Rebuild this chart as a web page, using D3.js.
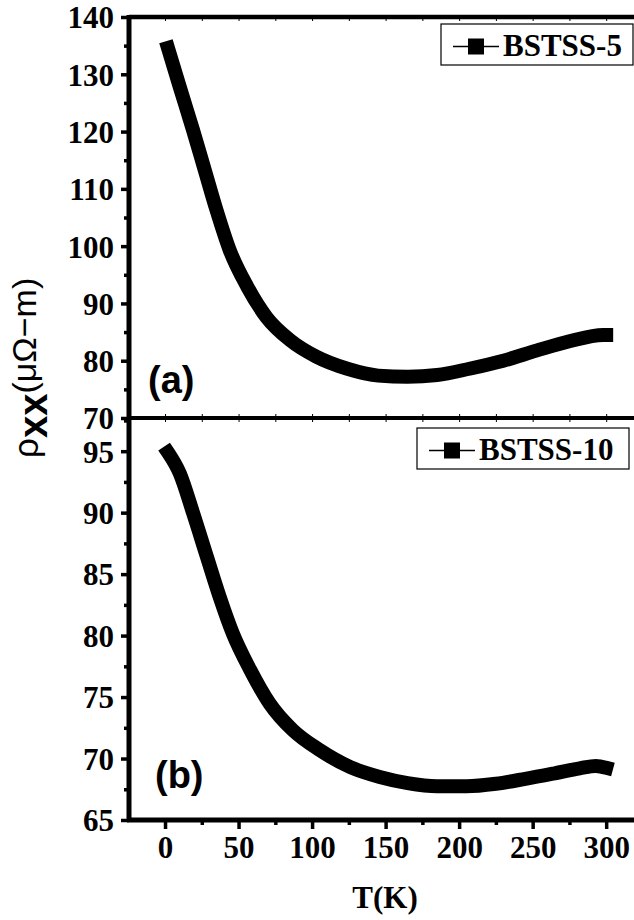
<!DOCTYPE html>
<html>
<head>
<meta charset="utf-8">
<script src="https://cdn.jsdelivr.net/npm/d3@7"></script>
<style>
  body { margin: 0; background: #fff; }
  svg { display: block; }
</style>
</head>
<body>
<svg id="chart"></svg>
<script>
// Temperature (K) and resistivity (µΩ-m)
const tempA = [2, 10, 19, 27, 35, 44, 56, 69, 85, 103, 124, 145, 165, 185, 207, 230, 253, 275, 298, 300];
const rhoA  = [134.6, 127.8, 120.3, 113.3, 106.3, 99.3, 92.9, 87.6, 83.6, 80.7, 78.6, 77.4, 77.2, 77.5, 78.6, 80.0, 81.8, 83.4, 84.5, 84.5];

const tempB = [2, 10, 19, 28.5, 37, 46, 58, 71, 87, 105, 126, 146, 165, 185, 205, 225, 245, 265, 282, 293, 300];
const rhoB  = [94.9, 93.2, 90.0, 86.4, 83.2, 80.2, 77.2, 74.5, 72.3, 70.7, 69.3, 68.5, 68.0, 67.75, 67.75, 67.95, 68.35, 68.8, 69.2, 69.4, 69.25];

const xTicks  = [0, 50, 100, 150, 200, 250, 300];
const yTicksA = [70, 80, 90, 100, 110, 120, 130, 140];
const yTicksB = [65, 70, 75, 80, 85, 90, 95];

const width = 634, height = 920;
const left = 129, right = 640;
const topA = 17, mid = 418, bottomB = 820;
const serif = "'Liberation Serif', 'Times New Roman', serif";
const sans = "'Liberation Sans', Arial, sans-serif";

const svg = d3.select("#chart")
    .attr("width", width)
    .attr("height", height);

const x = d3.scaleLinear().domain([-24.5, 323]).range([left, right]);
const yA = d3.scaleLinear().domain([70, 140]).range([mid, topA]);
const yB = d3.scaleLinear().domain([65, 97.7]).range([bottomB, mid]);

function styleLabels(g) {
    g.selectAll(".tick text")
        .attr("fill", "#000")
        .style("font-family", serif)
        .style("font-weight", "bold")
        .style("font-size", "31px");
}

// Left axes with outward major and minor ticks
function leftAxis(y, ticks, minorStep) {
    const [lo, hi] = y.domain();
    const minors = d3.range(lo, hi + 0.001, minorStep).filter(v => !ticks.includes(v));
    const gm = svg.append("g").attr("transform", `translate(${left},0)`)
        .call(d3.axisLeft(y).tickValues(minors).tickSize(5).tickFormat(""));
    const g = svg.append("g").attr("transform", `translate(${left},0)`)
        .call(d3.axisLeft(y).tickValues(ticks).tickSize(8).tickPadding(7).tickFormat(d3.format("d")));
    [gm, g].forEach(s => {
        s.select(".domain").remove();
        s.selectAll(".tick line").attr("stroke", "#000").attr("stroke-width", 3.5);
    });
    styleLabels(g);
    g.selectAll(".tick text").attr("dy", "0.35em");
}
leftAxis(yA, yTicksA, 5);
leftAxis(yB, yTicksB, 2.5);

// Bottom axis
const xMinor = d3.range(-25, 325, 25).filter(v => v > -24.5 && !xTicks.includes(v));
const gx = svg.append("g").attr("transform", `translate(0,${bottomB})`);
gx.append("g").call(d3.axisBottom(x).tickValues(xMinor).tickSize(5).tickFormat(""));
gx.append("g").call(d3.axisBottom(x).tickValues(xTicks).tickSize(9).tickPadding(7).tickFormat(d3.format("d")));
gx.selectAll(".domain").remove();
gx.selectAll(".tick line").attr("stroke", "#000").attr("stroke-width", 3.5);
styleLabels(gx);

// Small inward ticks on the horizontal frame lines
const allX = d3.range(0, 325, 25);
function frameTicks(yPos, axisFn, size) {
    svg.append("g").attr("transform", `translate(0,${yPos})`)
        .call(axisFn(x).tickValues(allX).tickSize(size).tickFormat(""))
        .call(g => g.select(".domain").remove())
        .selectAll("line").attr("stroke", "#000").attr("stroke-width", 1);
}
frameTicks(topA, d3.axisBottom, 4);
frameTicks(mid, d3.axisBottom, 4);
frameTicks(mid, d3.axisTop, 4);

// Frame lines
svg.append("line").attr("x1", left).attr("x2", right).attr("y1", topA).attr("y2", topA)
    .attr("stroke", "#000").attr("stroke-width", 4.5);
svg.append("line").attr("x1", left).attr("x2", right).attr("y1", mid).attr("y2", mid)
    .attr("stroke", "#000").attr("stroke-width", 4);
svg.append("line").attr("x1", left - 2).attr("x2", right).attr("y1", bottomB).attr("y2", bottomB)
    .attr("stroke", "#000").attr("stroke-width", 5);
svg.append("line").attr("x1", left).attr("x2", left).attr("y1", topA - 2).attr("y2", bottomB + 2)
    .attr("stroke", "#000").attr("stroke-width", 5);

// Curves
function curve(temps, rhos, y) {
    const pts = temps.map((t, i) => [t, rhos[i]]);
    svg.append("path")
        .datum(pts)
        .attr("fill", "none")
        .attr("stroke", "#000")
        .attr("stroke-width", 14)
        .attr("stroke-linecap", "square")
        .attr("stroke-linejoin", "round")
        .attr("d", d3.line().x(d => x(d[0])).y(d => y(d[1])).curve(d3.curveMonotoneX));
}
curve(tempA, rhoA, yA);
curve(tempB, rhoB, yB);

// Legends
function legend(bx, by, bw, bh, label) {
    const g = svg.append("g").attr("transform", `translate(${bx},${by})`);
    g.append("rect").attr("width", bw).attr("height", bh)
        .attr("fill", "#fff").attr("stroke", "#000").attr("stroke-width", 1.2);
    g.append("line").attr("x1", 12).attr("x2", 58).attr("y1", bh / 2 + 2).attr("y2", bh / 2 + 2)
        .attr("stroke", "#000").attr("stroke-width", 1.5);
    g.append("rect").attr("x", 27).attr("y", bh / 2 - 6).attr("width", 16).attr("height", 16).attr("fill", "#000");
    g.append("text").attr("x", 62).attr("y", bh / 2 + 11)
        .style("font-family", serif).style("font-weight", "bold").style("font-size", "31px")
        .text(label);
}
legend(441, 24, 192, 41, "BSTSS-5");
legend(417, 428, 212, 41, "BSTSS-10");

// Panel letters
svg.append("text").attr("x", 148).attr("y", 393)
    .style("font-family", sans).style("font-weight", "bold").style("font-size", "38px")
    .text("(a)");
svg.append("text").attr("x", 155).attr("y", 788)
    .style("font-family", sans).style("font-weight", "bold").style("font-size", "38px")
    .text("(b)");

// Axis titles
svg.append("text").attr("x", 385).attr("y", 908).attr("text-anchor", "middle")
    .style("font-family", serif).style("font-weight", "bold").style("font-size", "31px")
    .text("T(K)");

const yt = svg.append("text")
    .attr("transform", "translate(38,458) rotate(-90)")
    .style("font-family", sans);
yt.append("tspan").style("font-size", "35px").text("ρ");
yt.append("tspan").attr("dy", 9).style("font-size", "40px").style("font-weight", "bold").text("xx");
yt.append("tspan").attr("dy", -11).style("font-size", "34px").text("(μΩ−m)");
</script>
</body>
</html>
